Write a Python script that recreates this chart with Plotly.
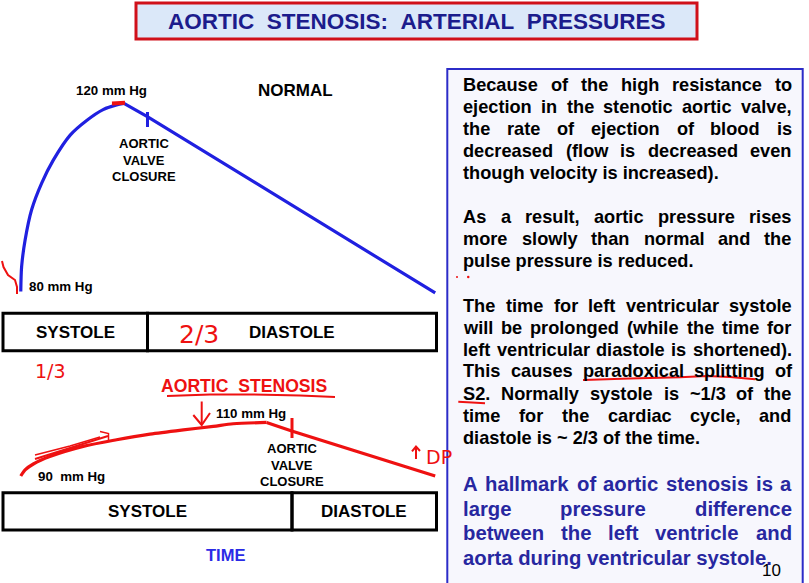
import plotly.graph_objects as go

W, H = 809, 583

# ---------------- data ----------------
# time as fraction of one cardiac cycle, pressure in mm Hg
normal_rise_t = [0.041, 0.043, 0.051, 0.066, 0.089, 0.116, 0.155, 0.193, 0.231, 0.262, 0.279]
normal_rise_p = [80.1, 85.4, 91.0, 97.4, 103.0, 107.9, 113.2, 116.3, 118.6, 119.6, 119.9]
normal_fall_t = [0.279, 0.333, 0.997]
normal_fall_p = [119.9, 117.1, 79.8]
normal_bounds = [0, 1 / 3, 1]
normal_phases = ["SYSTOLE", "DIASTOLE"]
normal_closure_p = [114.9, 118.1]

sten_rise_t = [0.041, 0.051, 0.070, 0.108, 0.185, 0.262, 0.339, 0.416, 0.485, 0.531, 0.608]
sten_rise_p = [90.0, 92.3, 94.5, 97.3, 101.1, 103.6, 105.7, 107.3, 108.6, 109.6, 110.1]
sten_fall_t = [0.608, 0.666, 0.997]
sten_fall_p = [110.1, 106.9, 90.0]
sten_bounds = [0, 2 / 3, 1]
sten_phases = ["SYSTOLE", "DIASTOLE"]
sten_closure_p = [104.3, 111.8]

title_text = "AORTIC\u00a0\u00a0STENOSIS:\u00a0\u00a0ARTERIAL\u00a0\u00a0PRESSURES"

paragraphs = [
    ("black", [
        ("Because of the high resistance to", True),
        ("ejection in the stenotic aortic valve,", True),
        ("the rate of ejection of blood is", True),
        ("decreased (flow is decreased even", True),
        ("though velocity is increased).", False),
    ]),
    ("black", [
        ("As a result, aortic pressure rises", True),
        ("more slowly than normal and the", True),
        ("pulse pressure is reduced.", False),
    ]),
    ("black", [
        ("The time for left ventricular systole", True),
        ("will be prolonged (while the time for", True),
        ("left ventricular diastole is shortened).", True),
        ("This causes paradoxical splitting of", True),
        ("S2.  Normally systole is ~1/3 of the", True),
        ("time for the cardiac cycle, and", True),
        ("diastole is ~ 2/3 of the time.", False),
    ]),
    ("blue", [
        ("A hallmark of aortic stenosis is a", True),
        ("large pressure difference", True),
        ("between the left ventricle and", True),
        ("aorta during ventricular systole.", False),
    ]),
]
para_line_y = [
    [84.7, 106.7, 128.7, 150.7, 172.7],
    [217.0, 239.0, 261.0],
    [305.5, 327.5, 349.5, 371.5, 393.5, 415.5, 437.5],
    [483.7, 508.5, 533.3, 558.0],
]

# ---------------- helpers ----------------
FONT = "Liberation Sans, Arial, sans-serif"
BLUE = "#2020e0"
RED = "#ee1111"
NAVY = "#1c1c8c"
TXT_BLUE = "#2727a0"


def px(x):
    return x / W


def py(y):
    return 1 - y / H


T0_PX, T1_PX = 3.0, 436.5


def t_dom(lo, hi):
    s = T1_PX - T0_PX
    return [px(T0_PX + lo * s), px(T0_PX + hi * s)]


def p_dom(pa, ya, pb, yb, lo, hi):
    s = (ya - yb) / (pb - pa)
    return [py(ya + (pa - lo) * s), py(ya - (hi - pa) * s)]


AW = {' ': 278, '!': 333, '(': 333, ')': 333, ',': 278, '-': 333, '.': 278, '/': 278, ':': 333,
      '~': 584, 'A': 722, 'B': 722, 'C': 722, 'D': 722, 'E': 667, 'F': 611, 'G': 778, 'H': 722,
      'I': 278, 'J': 556, 'K': 722, 'L': 611, 'M': 833, 'N': 722, 'O': 778, 'P': 667, 'Q': 778,
      'R': 722, 'S': 667, 'T': 611, 'U': 722, 'V': 667, 'W': 944, 'X': 667, 'Y': 667, 'Z': 611,
      'a': 556, 'b': 611, 'c': 556, 'd': 611, 'e': 556, 'f': 333, 'g': 611, 'h': 611, 'i': 278,
      'j': 278, 'k': 556, 'l': 278, 'm': 889, 'n': 611, 'o': 611, 'p': 611, 'q': 611, 'r': 389,
      's': 556, 't': 333, 'u': 611, 'v': 556, 'w': 778, 'x': 556, 'y': 556, 'z': 500}


def text_w(s, size):
    return sum(AW.get(c, 556) for c in s) / 1000.0 * size


def path_px(points):
    d = "M " + " L ".join(f"{px(x):.5f},{py(y):.5f}" for x, y in points)
    return d


annotations = []
shapes = []


def ann(text, x, y, size, color="black", bold=True, xanchor="center", yanchor="middle", family=FONT):
    annotations.append(dict(
        text=(f"<b>{text}</b>" if bold else text), x=px(x), y=py(y), xref="paper", yref="paper",
        xanchor=xanchor, yanchor=yanchor, showarrow=False, borderpad=0, borderwidth=0,
        font=dict(family=family, size=size, color=color)))


def pen(points, width=2, color=RED):
    shapes.append(dict(type="path", path=path_px(points), xref="paper", yref="paper",
                       line=dict(color=color, width=width), layer="above"))


fig = go.Figure()

# ---------------- curves ----------------
fig.add_trace(go.Scatter(x=normal_rise_t, y=normal_rise_p, mode="lines", xaxis="x", yaxis="y",
                         line=dict(color=BLUE, width=3.2, shape="spline", smoothing=0.8), hoverinfo="skip"))
fig.add_trace(go.Scatter(x=normal_fall_t, y=normal_fall_p, mode="lines", xaxis="x", yaxis="y",
                         line=dict(color=BLUE, width=3.2), hoverinfo="skip"))
fig.add_trace(go.Scatter(x=sten_rise_t, y=sten_rise_p, mode="lines", xaxis="x", yaxis="y2",
                         line=dict(color=RED, width=3.2, shape="spline", smoothing=0.8), hoverinfo="skip"))
fig.add_trace(go.Scatter(x=sten_fall_t, y=sten_fall_p, mode="lines", xaxis="x", yaxis="y2",
                         line=dict(color=RED, width=3.2), hoverinfo="skip"))

# aortic valve closure ticks (at end of systole)
shapes.append(dict(type="line", xref="x", yref="y", x0=normal_bounds[1], x1=normal_bounds[1],
                   y0=normal_closure_p[0], y1=normal_closure_p[1], line=dict(color=BLUE, width=3)))
shapes.append(dict(type="line", xref="x", yref="y2", x0=sten_bounds[1], x1=sten_bounds[1],
                   y0=sten_closure_p[0], y1=sten_closure_p[1], line=dict(color=RED, width=3)))

# ---------------- phase boxes ----------------
def phase_boxes(bounds, names, ytop, ybot):
    for i, name in enumerate(names):
        shapes.append(dict(type="rect", xref="x", yref="paper", x0=bounds[i], x1=bounds[i + 1],
                           y0=py(ybot), y1=py(ytop), line=dict(color="black", width=3),
                           fillcolor="rgba(0,0,0,0)"))
        cx = T0_PX + (bounds[i] + bounds[i + 1]) / 2 * (T1_PX - T0_PX)
        ann(name, cx, (ytop + ybot) / 2 + 0.5, 17)


phase_boxes(normal_bounds, normal_phases, 313.3, 350.7)
phase_boxes(sten_bounds, sten_phases, 492.7, 530.0)

# ---------------- chart labels ----------------
ann("120 mm Hg", 111.5, 90.5, 13.3)
ann("NORMAL", 295, 90, 17)
ann("AORTIC", 143.5, 143.3, 13)
ann("VALVE", 143.5, 160.0, 13)
ann("CLOSURE", 143.5, 176.7, 13)
ann("80 mm Hg", 60.5, 286.7, 13.3)

ann("AORTIC\u00a0\u00a0STENOSIS", 244, 386, 17.6, color=RED)
ann("110 mm Hg", 251.5, 413.3, 13.3)
ann("90\u00a0\u00a0mm Hg", 71, 476.7, 13.3)
ann("AORTIC", 291.7, 448.3, 13)
ann("VALVE", 291.7, 465.0, 13)
ann("CLOSURE", 291.7, 481.7, 13)
ann("TIME", 225, 555, 16.5, color="#2a2ae6")

# handwritten pen notes
ann("2/3", 199, 334, 25, color=RED, bold=False, family="DejaVu Sans, sans-serif")
ann("1/3", 51, 371, 19, color=RED, bold=False, family="DejaVu Sans, sans-serif")
ann("DP", 439, 457, 19, color=RED, bold=False, family="DejaVu Sans, sans-serif")
pen([(416, 459), (416, 447)])
pen([(412, 451.5), (416, 446.5), (420, 451)])
pen([(2, 261), (3.5, 267), (8, 275), (15, 280), (17, 287), (17, 294)])
pen([(112, 103.5), (125, 102.8)], width=4)
pen([(167, 396), (210, 394.5), (250, 394.5), (300, 395.5), (335, 397)])
pen([(201.7, 401.5), (201.7, 425)])
pen([(193.3, 415), (201.7, 425), (210, 413)])
pen([(35, 459), (70, 448), (108, 436)])
pen([(35, 455), (70, 446), (100, 437)], width=1.5)
pen([(100, 431.5), (108.5, 433.5), (108.5, 440)], width=1.5)

# ---------------- title ----------------
shapes.insert(0, dict(type="rect", xref="paper", yref="paper", x0=px(136), x1=px(697), y0=py(39), y1=py(3),
                      fillcolor="#dbe8f9", line=dict(color="#d0101a", width=3), layer="below"))
ann(title_text, 416.5, 21.5, 22.5, color=NAVY)

# ---------------- text box ----------------
shapes.insert(1, dict(type="rect", xref="paper", yref="paper", x0=px(447.3), x1=px(802.7), y0=py(592), y1=py(69),
                      fillcolor="#f7f7fd", line=dict(color="#2c2cc8", width=2), layer="below"))

X_L, X_R = 463.3, 791.7
for (colkey, lines), ys in zip(paragraphs, para_line_y):
    size = 18.2 if colkey == "black" else 20.3
    color = "black" if colkey == "black" else TXT_BLUE
    for (txt, just), y in zip(lines, ys):
        words = txt.split()
        if just and len(words) > 1:
            total = sum(text_w(w, size) for w in words)
            gap = (X_R - X_L - total) / (len(words) - 1)
            x = X_L
            for w in words:
                ann(w, x, y, size, color=color, xanchor="left")
                x += text_w(w, size) + gap
        else:
            ann(txt, X_L, y, size, color=color, xanchor="left")

# red pen marks on the text
pen([(583, 380), (630, 378.5), (680, 377.3), (706.7, 376), (730, 377), (755, 379.3)])
pen([(458.3, 401.7), (472, 402.5), (485, 403.3)])
shapes.append(dict(type="circle", xref="paper", yref="paper", x0=px(456), x1=px(458), y0=py(278), y1=py(276),
                   fillcolor=RED, line=dict(width=0)))
shapes.append(dict(type="circle", xref="paper", yref="paper", x0=px(467), x1=px(469.5), y0=py(278.2), y1=py(275.8),
                   fillcolor=RED, line=dict(width=0)))

# slide number (sits over the last line, as in the slide)
ann("10", 771.5, 570, 17, bold=False)

# ---------------- layout ----------------
ax_common = dict(visible=False, showgrid=False, zeroline=False, fixedrange=True)
fig.update_layout(
    width=W, height=H, margin=dict(l=0, r=0, t=0, b=0),
    paper_bgcolor="white", plot_bgcolor="rgba(0,0,0,0)", showlegend=False,
    xaxis=dict(domain=t_dom(-0.006, 1.01), range=[-0.006, 1.01], anchor="y", **ax_common),
    yaxis=dict(domain=p_dom(80, 292, 120, 103, 74, 126), range=[74, 126], anchor="x", **ax_common),
    yaxis2=dict(domain=p_dom(90, 476, 110, 422.7, 86, 114), range=[86, 114], anchor="x", **ax_common),
    shapes=shapes, annotations=annotations,
)

fig.write_html("out.html", config={"displayModeBar": False},
               post_script="document.body.style.margin='0';document.body.style.overflow='hidden';")
